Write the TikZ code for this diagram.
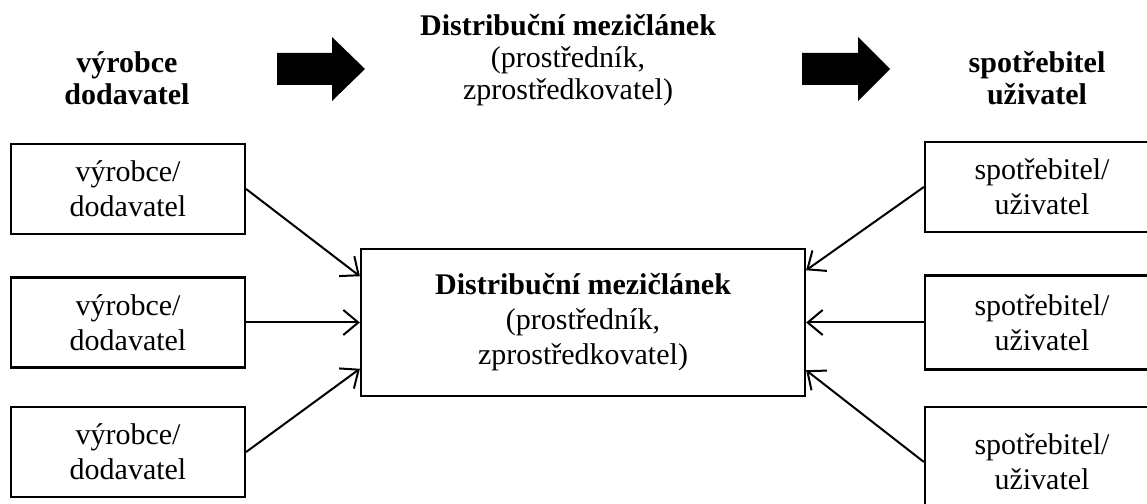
\documentclass[tikz,border=0pt]{standalone}
\usepackage{fontspec}
\setmainfont{Liberation Serif}
\usetikzlibrary{arrows.meta}

\def\velikost{\fontsize{12pt}{14pt}\selectfont}

\tikzset{
  krabice/.style={draw, line width=0.9pt, minimum width=93.6pt, minimum height=36pt,
    inner sep=0pt, align=center, font=\velikost},
  sipka/.style={line width=0.8pt, -{Straight Barb[length=6pt,width=10pt]}},
  nadpis/.style={align=center, font=\fontsize{12pt}{12.8pt}\selectfont}
}

\begin{document}
\begin{tikzpicture}[x=0.4pt, y=-0.4pt]
        \useasboundingbox (0,0) rectangle (1147,504);

        % Zahlavi
        \node[nadpis] (hvyrobce) at (127,78) {\textbf{výrobce}\\\textbf{dodavatel}};
        \node[nadpis] (hmezi) at (568,60) {\textbf{Distribuční mezičlánek}\\(prostředník,\\zprostředkovatel)};
        \node[nadpis] (hspotr) at (1037,78) {\textbf{spotřebitel}\\\textbf{uživatel}};

        % Velke sipky
        \fill (277,53) -- (332,53) -- (332,37) -- (365,69) -- (332,101) -- (332,85) -- (277,85) -- cycle;
        \fill (802,53) -- (858,53) -- (858,37) -- (890,69) -- (858,101) -- (858,85) -- (802,85) -- cycle;

        % Vyrobci
        \node[krabice] (v1) at (128,189) {výrobce/\\dodavatel};
        \node[krabice] (v2) at (128,322.5) {výrobce/\\dodavatel};
        \node[krabice] (v3) at (128,452) {výrobce/\\dodavatel};

        % Mezicl\'anek
        \node[krabice, minimum width=177.6pt, minimum height=58.8pt] (mezi) at (583,322.5)
          {\textbf{Distribuční mezičlánek}\\(prostředník,\\zprostředkovatel)};

        % Spotrebitele (prave okraje oriznute)
        \node[krabice] (s1) at (1042,187) {spotřebitel/\\uživatel};
        \node[krabice, minimum height=37.6pt] (s2) at (1042,322.5) {spotřebitel/\\uživatel};
        \node[krabice, minimum height=44pt] (s3) at (1042,462) {spotřebitel/\\uživatel};

        % Body na stranach mezicl\'anku
        \path (mezi.north west) -- (mezi.south west)
          coordinate[pos=0.19] (l1) coordinate[pos=0.5] (l2) coordinate[pos=0.81] (l3);
        \path (mezi.north east) -- (mezi.south east)
          coordinate[pos=0.15] (p1) coordinate[pos=0.5] (p2) coordinate[pos=0.82] (p3);

        % Sipky
        \draw[sipka] (v1.east) -- (l1);
        \draw[sipka] (v2.east) -- (l2);
        \draw[sipka] (v3.east) -- (l3);
        \draw[sipka] (s1.west) -- (p1);
        \draw[sipka] (s2.west) -- (p2);
        \draw[sipka] (s3.west) -- (p3);
\end{tikzpicture}
\end{document}
